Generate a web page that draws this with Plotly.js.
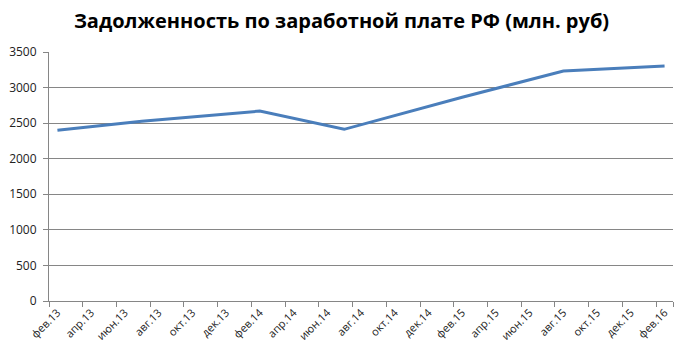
<!DOCTYPE html>
<html>
<head>
<meta charset="utf-8">
<script src="https://cdn.plot.ly/plotly-3.0.1.min.js"></script>
<style>html,body{margin:0;padding:0;background:#fff}#chart{width:683px;height:357px}</style>
</head>
<body>
<div id="chart"></div>
<script>
// All months on the category axis (labels shown every 2 months)
const months = ["фев.13","мар.13","апр.13","май.13","июн.13","июл.13","авг.13","сен.13","окт.13","ноя.13","дек.13","янв.14",
  "фев.14","мар.14","апр.14","май.14","июн.14","июл.14","авг.14","сен.14","окт.14","ноя.14","дек.14","янв.15",
  "фев.15","мар.15","апр.15","май.15","июн.15","июл.15","авг.15","сен.15","окт.15","ноя.15","дек.15","янв.16","фев.16"];
const tickLabels = ["фев.13","апр.13","июн.13","авг.13","окт.13","дек.13","фев.14","апр.14","июн.14","авг.14","окт.14","дек.14",
  "фев.15","апр.15","июн.15","авг.15","окт.15","дек.15","фев.16"];
const dates = ["фев.13","июл.13","фев.14","июл.14","фев.15","авг.15","фев.16"];
const debt = [2400, 2525, 2670, 2413, 2865, 3232, 3302];

const trace = {
  x: dates, y: debt, type: "scatter", mode: "lines",
  line: {color: "#4A7EBB", width: 3},
  hoverinfo: "skip"
};
const layout = {
  width: 683, height: 357,
  margin: {l: 49, r: 10, t: 52, b: 56},
  paper_bgcolor: "#fff", plot_bgcolor: "#fff",
  showlegend: false,
  title: {text: "Задолженность по заработной плате РФ (млн. руб)",
    font: {family: "Open Sans", size: 20, color: "#000", weight: "bold"},
    x: 0.5, xanchor: "center", xref: "container", y: 0.94, yanchor: "middle", yref: "container"},
  xaxis: {
    type: "category", categoryorder: "array", categoryarray: months,
    range: [-0.5, 36.5],
    tickmode: "array", tickvals: tickLabels, ticktext: tickLabels,
    tickson: "boundaries",
    ticks: "outside", ticklen: 5, tickcolor: "#868686",
    showline: true, linecolor: "#868686", linewidth: 1,
    showgrid: false, zeroline: false,
    tickangle: -45,
    tickfont: {family: "Open Sans", size: 11, color: "#222"}
  },
  yaxis: {
    range: [0, 3500], dtick: 500, tick0: 0,
    ticks: "outside", ticklen: 5, tickcolor: "#868686",
    showline: true, linecolor: "#868686", linewidth: 1,
    showgrid: true, gridcolor: "#868686", gridwidth: 1,
    zeroline: false,
    ticklabelstandoff: 4,
    tickfont: {family: "Open Sans", size: 12, color: "#222"}
  }
};
Plotly.newPlot("chart", [trace], layout, {displayModeBar: false, staticPlot: true});
</script>
</body>
</html>
